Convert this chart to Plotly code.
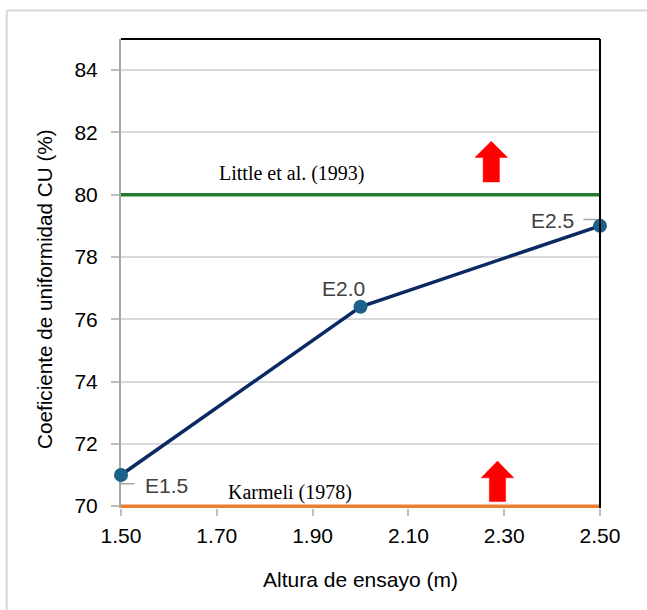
import plotly.graph_objects as go

# ---- data ----
alturas = [1.50, 2.00, 2.50]
cu = [71.0, 76.4, 79.0]
etiquetas = ["E1.5", "E2.0", "E2.5"]

ref_nombres = ["Little et al. (1993)", "Karmeli (1978)"]
ref_valores = [80, 70]
ref_colores = ["#267a30", "#ed7d31"]

x_ticks = [1.50, 1.70, 1.90, 2.10, 2.30, 2.50]
y_ticks = [70, 72, 74, 76, 78, 80, 82, 84]

fig = go.Figure()

# reference lines
for v, c in zip(ref_valores, ref_colores):
    fig.add_trace(go.Scatter(x=[alturas[0], alturas[-1]], y=[v, v], mode="lines",
                             line=dict(color=c, width=3.5), hoverinfo="skip",
                             showlegend=False, cliponaxis=False))

# main series
fig.add_trace(go.Scatter(x=alturas, y=cu, mode="lines+markers",
                         line=dict(color="#0b2a63", width=3.5),
                         marker=dict(color="#1b6189", size=14),
                         showlegend=False, cliponaxis=False))

sans = "Liberation Sans, Arial, sans-serif"
serif = "Liberation Serif, Times New Roman, serif"

W, H = 647, 610
L, R, T, B = 121, 47, 39, 102
pw, ph = W - L - R, H - T - B

annotations = []
# reference labels
annotations.append(dict(x=1.857, y=80.69, text=ref_nombres[0], showarrow=False,
                        font=dict(family=serif, size=20, color="#000000")))
annotations.append(dict(x=1.852, y=70.45, text=ref_nombres[1], showarrow=False,
                        font=dict(family=serif, size=20, color="#000000")))
# data labels
lab_pos = [(1.5956, 70.66), (1.9638, 76.99), (2.4006, 79.17)]
for (lx, ly), t in zip(lab_pos, etiquetas):
    annotations.append(dict(x=lx, y=ly, text=t, showarrow=False,
                            font=dict(family=sans, size=21, color="#404040")))
# y axis title (placed as annotation for exact position)
annotations.append(dict(xref="paper", yref="paper",
                        x=(44 - L) / pw, y=(H - B - 289) / ph,
                        xanchor="center", yanchor="middle", textangle=-90,
                        text="Coeficiente de uniformidad CU (%)", showarrow=False,
                        font=dict(family=sans, size=20.7, color="#000000")))

shapes = []
# leader lines
shapes.append(dict(type="path", xref="x", yref="y", layer="below",
                   path=f"M {alturas[0]},{cu[0]} L 1.5,70.72 L 1.528,70.72",
                   line=dict(color="#a6a6a6", width=1.5)))
shapes.append(dict(type="path", xref="x", yref="y", layer="below",
                   path=f"M 2.4652,79.203 L 2.4917,79.203 L {alturas[2]},{cu[2]}",
                   line=dict(color="#a6a6a6", width=1.5)))


def arrow(cx, tip, base, bottom, hh=0.034, hs=0.017):
    p = (f"M {cx-hs},{bottom} L {cx-hs},{base} L {cx-hh},{base} L {cx},{tip} "
         f"L {cx+hh},{base} L {cx+hs},{base} L {cx+hs},{bottom} Z")
    return dict(type="path", xref="x", yref="y", path=p, fillcolor="#ff0000",
                line=dict(color="#ff0000", width=0.5), layer="above")


shapes.append(arrow(2.273, 81.72, 81.195, 80.41))
shapes.append(arrow(2.286, 71.45, 70.91, 70.15))

# top and right plot borders
shapes.append(dict(type="line", xref="paper", yref="paper", x0=0, x1=1, y0=1, y1=1,
                   line=dict(color="#000000", width=2)))
shapes.append(dict(type="line", xref="paper", yref="paper", x0=1, x1=1, y0=0, y1=1,
                   line=dict(color="#000000", width=2)))

# outer light-grey chart border (left and top edges visible)
bx0 = (6.7 - L) / pw
by1 = (H - B - 10.5) / ph
shapes.append(dict(type="line", xref="paper", yref="paper",
                   x0=bx0, x1=bx0, y0=-(B + 5) / ph, y1=by1,
                   line=dict(color="#d9d9d9", width=2), layer="below"))
shapes.append(dict(type="line", xref="paper", yref="paper",
                   x0=bx0, x1=(W + 5 - L) / pw, y0=by1, y1=by1,
                   line=dict(color="#d9d9d9", width=2), layer="below"))

fig.update_layout(
    width=W, height=H,
    margin=dict(l=L, r=R, t=T, b=B, pad=0),
    paper_bgcolor="white", plot_bgcolor="white",
    annotations=annotations, shapes=shapes,
    font=dict(family=sans, size=21, color="#000000"),
    xaxis=dict(range=[1.5, 2.5], tickvals=x_ticks,
               ticktext=[f"{v:.2f}" for v in x_ticks],
               showgrid=False, zeroline=False, showline=False,
               ticks="outside", ticklen=7, tickcolor="#bfbfbf", tickwidth=1.5,
               ticklabelstandoff=2,
               tickfont=dict(family=sans, size=21, color="#000000"),
               title=dict(text="Altura de ensayo (m)",
                          font=dict(family=sans, size=21, color="#000000"),
                          standoff=26)),
    yaxis=dict(range=[69.94, 85], tickvals=y_ticks,
               showgrid=True, gridcolor="#d9d9d9", gridwidth=1.5,
               zeroline=False, showline=True, linecolor="#a6a6a6", linewidth=2,
               ticks="outside", ticklen=8, tickcolor="#bfbfbf", tickwidth=1.5,
               ticklabelstandoff=9,
               tickfont=dict(family=sans, size=21, color="#000000"),
               layer="below traces"),
)

fig.write_html("out.html")
